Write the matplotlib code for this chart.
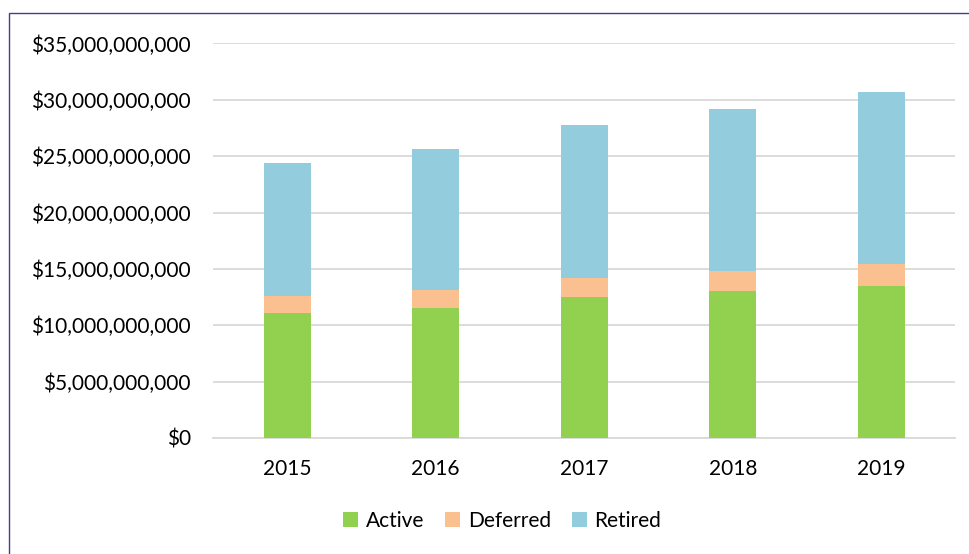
import numpy as np
import matplotlib.pyplot as plt
from matplotlib.patches import Rectangle
from matplotlib.ticker import FuncFormatter

plt.rcParams['font.family'] = ['Lato', 'DejaVu Sans']

years = ['2015', '2016', '2017', '2018', '2019']
active = [11.09e9, 11.50e9, 12.48e9, 13.00e9, 13.45e9]
deferred = [1.48e9, 1.60e9, 1.74e9, 1.84e9, 2.01e9]
retired = [11.79e9, 12.56e9, 13.54e9, 14.36e9, 15.22e9]

W, H = 970, 554
fig = plt.figure(figsize=(W / 100, H / 100), dpi=100)
ax = fig.add_axes([213 / W, 1 - 438 / H, 742.5 / W, (438 - 43.4) / H])

ind = np.arange(len(years))
width = 0.316
a = np.array(active)
d = np.array(deferred)
r = np.array(retired)
ax.bar(ind, a, width, color='#92D050', label='Active', zorder=3)
ax.bar(ind, d, width, bottom=a, color='#FAC090', label='Deferred', zorder=3)
ax.bar(ind, r, width, bottom=a + d, color='#93CDDD', label='Retired', zorder=3)

ax.set_xlim(-0.5, len(years) - 0.5)
ax.set_ylim(0, 35e9)
ax.set_yticks(np.arange(0, 35e9 + 1, 5e9))
ax.yaxis.set_major_formatter(FuncFormatter(lambda v, p: '${:,.0f}'.format(v)))
ax.set_xticks(ind)
ax.set_xticklabels(years)
ax.grid(axis='y', color='#D9D9D9', linewidth=1.3, zorder=0)
for s in ['top', 'right', 'left']:
    ax.spines[s].set_visible(False)
ax.spines['bottom'].set_color('#D9D9D9')
ax.spines['bottom'].set_linewidth(1.3)
ax.tick_params(axis='both', length=0, labelsize=15, colors='#000000')
ax.tick_params(axis='y', pad=16)
ax.tick_params(axis='x', pad=15)

fig.legend(loc='center', bbox_to_anchor=(502 / W, 1 - 521 / H), ncol=3, frameon=False,
           fontsize=15, handlelength=0.75, handleheight=0.75, handletextpad=0.35,
           columnspacing=1.0)

fig.patches.append(Rectangle((9 / W, -0.1), 1.2, 1 - 13 / H + 0.1, transform=fig.transFigure,
                             fill=False, edgecolor='#3F3F8F', linewidth=1))

plt.savefig('out.png', dpi=100)
